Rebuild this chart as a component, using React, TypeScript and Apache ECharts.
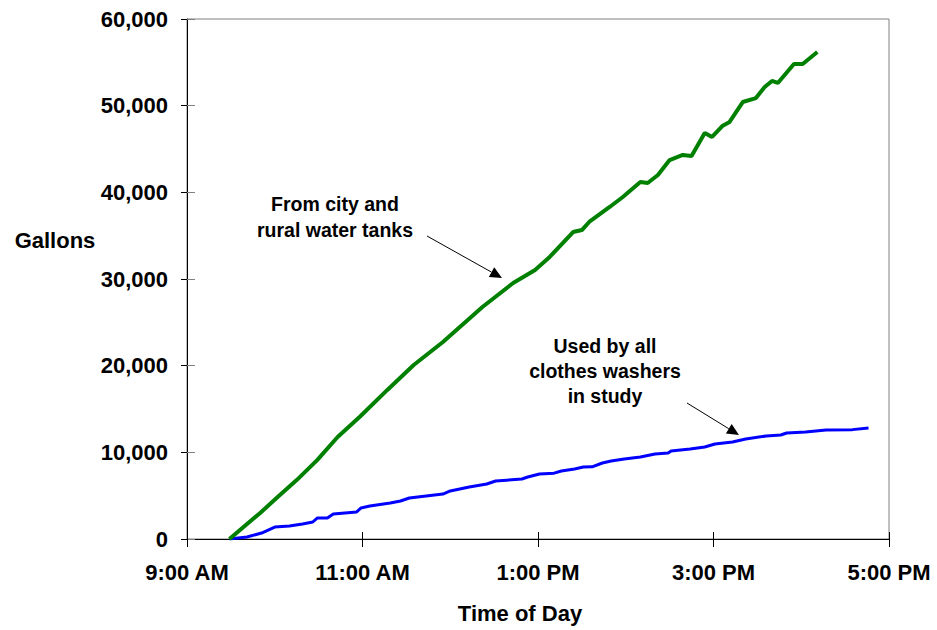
import React, { useEffect, useRef } from "react";
import * as echarts from "echarts";

// minutes after 9:00 AM, gallons
const cityTankMinutes = [29, 50, 62, 75, 89, 103, 118, 137, 155, 175, 202, 223, 238, 248, 264, 270, 275, 289, 298, 310, 315, 322, 330, 339, 345, 354, 359, 366, 371, 380, 389, 395, 400, 404, 415, 421, 431];
const cityTankGallons = [0, 3000, 4850, 6800, 9100, 11770, 14080, 17200, 20080, 22730, 26770, 29540, 31040, 32540, 35420, 35650, 36580, 38310, 39460, 41190, 41080, 42000, 43730, 44310, 44190, 46850, 46390, 47650, 48120, 50420, 50880, 52150, 52850, 52620, 54810, 54810, 56190];

const washerMinutes = [29, 41, 51, 60, 70, 79, 86, 89, 96, 100, 116, 119, 125, 139, 146, 152, 175, 180, 193, 205, 211, 229, 233, 241, 251, 256, 265, 271, 277, 284, 290, 299, 310, 320, 329, 331, 344, 354, 361, 373, 382, 396, 406, 410, 423, 437, 455, 466];
const washerGallons = [0, 230, 690, 1380, 1500, 1730, 1960, 2420, 2420, 2880, 3120, 3580, 3810, 4150, 4380, 4730, 5190, 5540, 6000, 6350, 6690, 6920, 7150, 7500, 7600, 7850, 8080, 8310, 8330, 8770, 9000, 9230, 9460, 9810, 9920, 10150, 10380, 10620, 10960, 11190, 11540, 11880, 12000, 12230, 12350, 12580, 12620, 12810];

const xTickLabels = ["9:00 AM", "11:00 AM", "1:00 PM", "3:00 PM", "5:00 PM"];
const yTickLabels = ["0", "10,000", "20,000", "30,000", "40,000", "50,000", "60,000"];

const FONT = 'Arial, "Liberation Sans", sans-serif';

function arrow(x1: number, y1: number, x2: number, y2: number) {
  const dx = x2 - x1, dy = y2 - y1;
  const len = Math.sqrt(dx * dx + dy * dy);
  const ux = dx / len, uy = dy / len;
  const hl = 12, hw = 5.5;
  const bx = x2 - ux * hl, by = y2 - uy * hl;
  return [
    { type: "line", shape: { x1, y1, x2: bx, y2: by }, style: { stroke: "#000", lineWidth: 1 } },
    {
      type: "polygon",
      shape: { points: [[x2, y2], [bx - uy * hw, by + ux * hw], [bx + uy * hw, by - ux * hw]] },
      style: { fill: "#000" },
    },
  ];
}

export default function App() {
  const ref = useRef<HTMLDivElement>(null);
  useEffect(() => {
    document.body.style.margin = "0";
    const chart = echarts.init(ref.current!, null, { renderer: "svg" });
    const labelStyle = { color: "#000", fontWeight: "bold" as const, fontSize: 22, fontFamily: FONT };
    const grid = { left: 187, right: 48, top: 19, bottom: 91, show: true, borderColor: "#808080", borderWidth: 1, containLabel: false };
    chart.setOption({
      animation: false,
      backgroundColor: "#fff",
      grid,
      xAxis: [
        {
          type: "value", min: 0, max: 480, interval: 120,
          axisLine: { show: true, lineStyle: { color: "#000", width: 1 } },
          axisTick: { show: true, length: 8, lineStyle: { color: "#000" } },
          splitLine: { show: false },
          axisLabel: { ...labelStyle, margin: 22, formatter: (v: number) => xTickLabels[Math.round(v / 120)] ?? "" },
        },
        {
          type: "value", min: 0, max: 480, interval: 120, position: "bottom",
          axisLine: { show: false },
          axisTick: { show: true, inside: true, length: 7, lineStyle: { color: "#000" } },
          splitLine: { show: false },
          axisLabel: { show: false },
        },
      ],
      yAxis: [
        {
          type: "value", min: 0, max: 60000, interval: 10000,
          axisLine: { show: true, lineStyle: { color: "#000", width: 1 } },
          axisTick: { show: true, length: 6, lineStyle: { color: "#000" } },
          splitLine: { show: false },
          axisLabel: { ...labelStyle, margin: 19, formatter: (v: number) => yTickLabels[Math.round(v / 10000)] ?? "" },
        },
        {
          type: "value", min: 0, max: 60000, interval: 10000, position: "left",
          axisLine: { show: false },
          axisTick: { show: true, inside: true, length: 8, lineStyle: { color: "#808080" } },
          splitLine: { show: false },
          axisLabel: { show: false },
        },
      ],
      series: [
        {
          name: "From city and rural water tanks",
          type: "line",
          data: cityTankMinutes.map((m, i) => [m, cityTankGallons[i]]),
          showSymbol: false,
          symbol: "none",
          lineStyle: { color: "#008000", width: 4 },
          z: 3,
        },
        {
          name: "Used by all clothes washers in study",
          type: "line",
          data: washerMinutes.map((m, i) => [m, washerGallons[i]]),
          showSymbol: false,
          symbol: "none",
          lineStyle: { color: "#0000ff", width: 3 },
          z: 2,
        },
      ],
      graphic: [
        { type: "text", x: 55, y: 240, style: { text: "Gallons", fill: "#000", font: `bold 22px ${FONT}`, align: "center", verticalAlign: "middle" } },
        { type: "text", x: 520, y: 613, style: { text: "Time of Day", fill: "#000", font: `bold 22px ${FONT}`, align: "center", verticalAlign: "middle" } },
        { type: "text", x: 335, y: 217, style: { text: "From city and\nrural water tanks", fill: "#000", font: `bold 19.5px ${FONT}`, lineHeight: 26, align: "center", verticalAlign: "middle" } },
        { type: "text", x: 605, y: 371, style: { text: "Used by all\nclothes washers\nin study", fill: "#000", font: `bold 19.5px ${FONT}`, lineHeight: 25, align: "center", verticalAlign: "middle" } },
        ...arrow(427, 236, 502, 278),
        ...arrow(687, 403, 739, 435),
      ],
    });
    return () => chart.dispose();
  }, []);
  return <div ref={ref} style={{ width: 937, height: 630 }} />;
}
